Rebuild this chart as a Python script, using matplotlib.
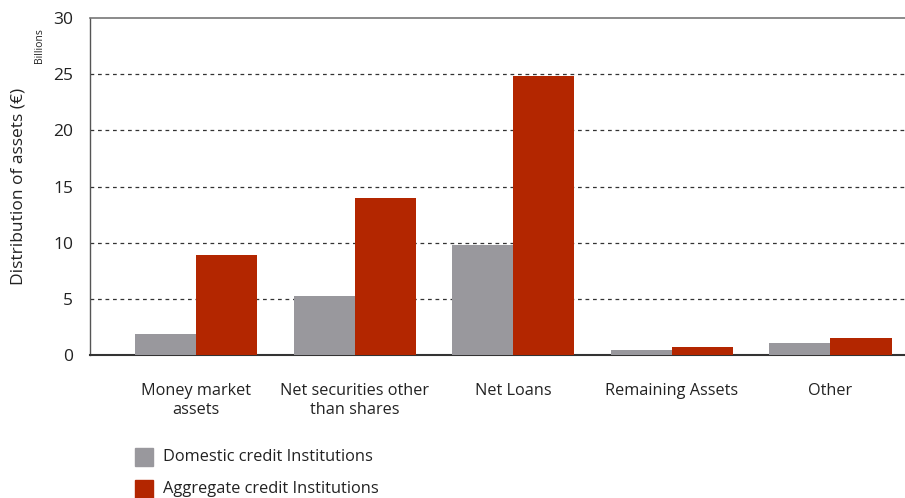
import numpy as np
import matplotlib.pyplot as plt
from matplotlib.patches import Rectangle

plt.rcParams['font.family'] = ['Open Sans', 'DejaVu Sans']

categories = ["Money market\nassets", "Net securities other\nthan shares", "Net Loans",
              "Remaining Assets", "Other"]
domestic = [1.9, 5.3, 9.8, 0.45, 1.1]
aggregate = [8.9, 14.0, 24.8, 0.7, 1.5]
series_names = ["Domestic credit Institutions", "Aggregate credit Institutions"]
yticks = [0, 5, 10, 15, 20, 25, 30]

grey = "#99989d"
red = "#b32600"

fig = plt.figure(figsize=(9.05, 4.98), dpi=100)
ax = fig.add_axes([0.0994, 0.287, 0.9006, 0.677])

x = np.arange(len(categories))
w = 0.385
ax.bar(x - w / 2, domestic, width=w, color=grey, zorder=3)
ax.bar(x + w / 2, aggregate, width=w, color=red, zorder=3)

ax.set_xlim(-0.67, 4.47)
ax.set_ylim(0, 30)
ax.set_yticks(yticks)
ax.set_yticklabels([str(t) for t in yticks], fontsize=12.5, color="#222222")
ax.set_xticks(x)
ax.set_xticklabels(categories, fontsize=11.7, color="#222222", linespacing=1.3)
ax.tick_params(axis="both", length=0)
ax.tick_params(axis="y", pad=12)
ax.tick_params(axis="x", pad=20)

for v in yticks[1:-1]:
    ax.axhline(v, color="#333333", lw=0.9, ls=(0, (3, 3)), zorder=1)

ax.spines["right"].set_visible(False)
ax.spines["top"].set_color("#777777")
ax.spines["top"].set_linewidth(1.2)
ax.spines["left"].set_color("#555555")
ax.spines["left"].set_linewidth(1.0)
ax.spines["bottom"].set_color("#333333")
ax.spines["bottom"].set_linewidth(1.5)

ax.set_ylabel("Distribution of assets (€)", fontsize=12.5, color="#222222")
ax.yaxis.set_label_coords(-0.078, 0.5)
fig.text(0.044, 0.944, "Billions", rotation=90, fontsize=7.5, color="#222222",
         ha="center", va="top")

# legend drawn by hand below the axes
for i, (name, col) in enumerate(zip(series_names, [grey, red])):
    y = 1 - (457 + 32 * i) / 498
    fig.patches.append(Rectangle((135 / 905, y - 9 / 498), 18 / 905, 18 / 498,
                                 transform=fig.transFigure, color=col))
    fig.text(163 / 905, y, name, fontsize=11.8, color="#222222", va="center")

fig.savefig("out.png", dpi=100)
